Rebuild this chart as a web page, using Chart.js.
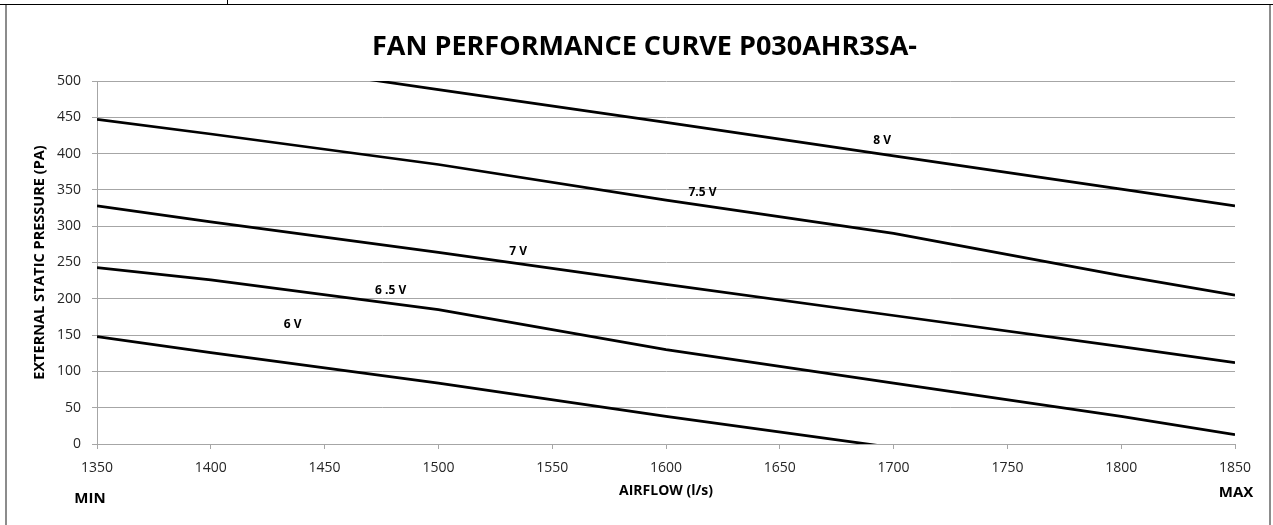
<!DOCTYPE html>
<html>
<head>
<meta charset="utf-8">
<title>Fan performance curve</title>
<script src="https://cdn.jsdelivr.net/npm/chart.js@4.4.1/dist/chart.umd.min.js"></script>
<style>
    body { margin: 0; background: #fff; }
    #wrap { position: relative; width: 1273px; height: 525px; overflow: hidden; }
    #wrap canvas { position: absolute; left: 0; top: 0; }
    /* sheet cell borders around the chart object */
    #frame {
        position: absolute; left: 5px; top: 4px; width: 1266px; height: 560px;
        border-left: 2px solid #8c8c8c; border-right: 2px solid #8c8c8c;
        box-sizing: border-box;
    }
    #topLine { position: absolute; left: 0; top: 4px; width: 1273px; height: 1px; background: #000; }
    #cellTick { position: absolute; left: 227px; top: 0; width: 1px; height: 5px; background: #000; }
</style>
</head>
<body>
<div id="wrap">
    <div id="frame"></div>
    <div id="topLine"></div>
    <div id="cellTick"></div>
    <canvas id="chart" width="1273" height="525"></canvas>
</div>
<script>
// Airflow points (l/s) and pressure (Pa) for each fan voltage
const airflow = [1350, 1400, 1500, 1600, 1700, 1800, 1850];
const fan8V  = [null, 534, 488, 443, 397, 351, 328];
const fan75V = [447, 427, 385, 336, 290, 232, 205];
const fan7V  = [328, 306, 264, 220, 177, 134, 112];
const fan65V = [243, 226, 185, 130, 84, 38, 13];
const fan6V  = [148, 126, 84, 38, -5, null, null];

const seriesNames = ['8 V', '7.5 V', '7 V', '6 .5 V', '6 V'];
const seriesValues = [fan8V, fan75V, fan7V, fan65V, fan6V];

// where each curve's name is written (airflow, pressure)
const labelAirflow  = [1695, 1616, 1535, 1479, 1436];
const labelPressure = [418, 346, 265, 211, 164];

const chartTitle = 'FAN PERFORMANCE CURVE P030AHR3SA-';
const xTitle = 'AIRFLOW (l/s)';
const yTitle = 'EXTERNAL STATIC PRESSURE (PA)';

const xMin = 1350, xMax = 1850, xStep = 50;
const yMin = 0, yMax = 500, yStep = 50;

const gridGray = '#a6a6a6';
const tickFont = { family: '"Open Sans", sans-serif', size: 14 };

// turn the arrays into {x, y} pairs, skipping the blanks
function toPoints(values) {
    let points = [];
    values.forEach((v, i) => {
        if (v !== null) points.push({ x: airflow[i], y: v });
    });
    return points;
}

// texts that Excel put around the plot
const chartTexts = {
    id: 'chartTexts',
    afterDatasetsDraw(chart) {
        const { ctx, chartArea, scales } = chart;
        ctx.save();
        ctx.fillStyle = '#000';
        ctx.textAlign = 'center';
        ctx.textBaseline = 'middle';

        // curve names
        ctx.font = 'bold 12px "Open Sans", sans-serif';
        seriesNames.forEach((name, i) => {
            ctx.fillText(name, scales.x.getPixelForValue(labelAirflow[i]), scales.y.getPixelForValue(labelPressure[i]));
        });

        // title
        ctx.font = 'bold 27px "Open Sans", sans-serif';
        ctx.fillText(chartTitle, chart.width / 2 + 8, 47);

        // axis titles
        ctx.font = 'bold 14px "Open Sans", sans-serif';
        ctx.fillText(xTitle, (chartArea.left + chartArea.right) / 2, 491);
        ctx.font = 'bold 14.5px "Open Sans", sans-serif';
        ctx.save();
        ctx.translate(40, (chartArea.top + chartArea.bottom) / 2);
        ctx.rotate(-Math.PI / 2);
        ctx.fillText(yTitle, 0, 0);
        ctx.restore();

        // ends of the range
        ctx.font = 'bold 15px "Open Sans", sans-serif';
        ctx.fillText('MIN', 90, 499);
        ctx.fillText('MAX', 1236, 493);
        ctx.restore();
    }
};

const ctx = document.getElementById('chart').getContext('2d');
const fanChart = new Chart(ctx, {
    type: 'scatter',
    data: {
        datasets: seriesNames.map((name, i) => ({
            label: name,
            data: toPoints(seriesValues[i]),
            showLine: true,
            borderColor: '#000',
            borderWidth: 2.75,
            pointRadius: 0,
            pointHoverRadius: 0,
            tension: 0
        }))
    },
    options: {
        responsive: false,
        animation: false,
        layout: {
            autoPadding: false,
            padding: { left: 0, right: 38, top: 81, bottom: 0 }
        },
        plugins: {
            legend: { display: false },
            title: { display: false },
            tooltip: { enabled: false }
        },
        scales: {
            x: {
                type: 'linear',
                min: xMin,
                max: xMax,
                afterFit: (scale) => { scale.height = 81; },
                ticks: {
                    stepSize: xStep,
                    color: '#262626',
                    font: tickFont,
                    padding: 11,
                    callback: (value) => String(value)
                },
                grid: { drawOnChartArea: false, tickColor: gridGray, tickLength: 5 },
                border: { color: gridGray }
            },
            y: {
                min: yMin,
                max: yMax,
                afterFit: (scale) => { scale.width = 97; },
                ticks: { stepSize: yStep, color: '#262626', font: tickFont, padding: 11 },
                grid: { color: gridGray, tickColor: gridGray, tickLength: 5 },
                border: { color: gridGray }
            }
        }
    },
    plugins: [chartTexts]
});
</script>
</body>
</html>
